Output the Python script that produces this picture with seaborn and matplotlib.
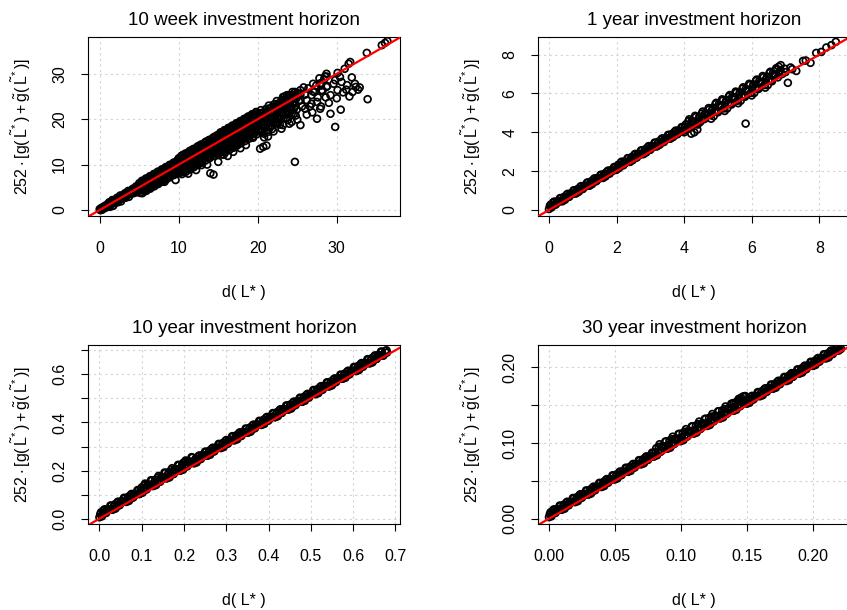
import matplotlib
matplotlib.use("Agg")
import matplotlib.pyplot as plt
import seaborn as sns
from matplotlib.ticker import FixedLocator, FixedFormatter

sns.set_style("ticks")
plt.rcParams["font.family"] = ["Liberation Sans", "DejaVu Sans"]
plt.rcParams["mathtext.fontset"] = "custom"
plt.rcParams["mathtext.rm"] = "Liberation Sans"
plt.rcParams["mathtext.it"] = "Liberation Sans"
plt.rcParams["mathtext.default"] = "regular"

# ---------------- 10 week horizon ----------------
wk10_x = [
    0.0, 0.1, 0.2, 0.3, 0.4, 0.5, 0.6, 0.7, 0.8, 0.9,
    1.0, 1.1, 1.2, 1.3, 1.4, 1.5, 1.6, 1.7, 1.8, 1.9,
    2.0, 2.1, 2.2, 2.3, 2.4, 2.5, 2.6, 2.7, 2.8, 2.9,
    3.0, 3.1, 3.2, 3.3, 3.4, 3.5, 3.6, 3.7, 3.8, 3.9,
    4.0, 4.1, 4.2, 4.3, 4.4, 4.5, 4.6, 4.7, 4.8, 4.9,
    5.00, 5.05, 5.10, 5.15, 5.20, 5.25, 5.30, 5.35, 5.40, 5.45,
    5.50, 5.55, 5.60, 5.65, 5.70, 5.75, 5.80, 5.85, 5.90, 5.95,
    6.00, 6.05, 6.10, 6.15, 6.20, 6.25, 6.30, 6.35, 6.40, 6.45,
    6.50, 6.55, 6.60, 6.65, 6.70, 6.75, 6.80, 6.85, 6.90, 6.95,
    7.00, 7.05, 7.10, 7.15, 7.20, 7.25, 7.30, 7.35, 7.40, 7.45,
    7.50, 7.55, 7.60, 7.65, 7.70, 7.75, 7.80, 7.85, 7.90, 7.95,
    8.00, 8.05, 8.10, 8.15, 8.20, 8.25, 8.30, 8.35, 8.40, 8.45,
    8.50, 8.55, 8.60, 8.65, 8.70, 8.75, 8.80, 8.85, 8.90, 8.95,
    9.00, 9.05, 9.10, 9.15, 9.20, 9.25, 9.30, 9.35, 9.40, 9.45,
    9.50, 9.55, 9.60, 9.65, 9.70, 9.75, 9.80, 9.85, 9.90, 9.95,
    10.00, 10.05, 10.10, 10.15, 10.20, 10.25, 10.30, 10.35, 10.40, 10.45,
    10.50, 10.55, 10.60, 10.65, 10.70, 10.75, 10.80, 10.85, 10.90, 10.95,
    11.00, 11.05, 11.10, 11.15, 11.20, 11.25, 11.30, 11.35, 11.40, 11.45,
    11.50, 11.55, 11.60, 11.65, 11.70, 11.75, 11.80, 11.85, 11.90, 11.95,
    12.00, 12.05, 12.10, 12.15, 12.20, 12.25, 12.30, 12.35, 12.40, 12.45,
    12.50, 12.55, 12.60, 12.65, 12.70, 12.75, 12.80, 12.85, 12.90, 12.95,
    13.00, 13.05, 13.10, 13.15, 13.20, 13.25, 13.30, 13.35, 13.40, 13.45,
    13.50, 13.55, 13.60, 13.65, 13.70, 13.75, 13.80, 13.85, 13.90, 13.95,
    14.00, 14.05, 14.10, 14.15, 14.20, 14.25, 14.30, 14.35, 14.40, 14.45,
    14.50, 14.55, 14.60, 14.65, 14.70, 14.75, 14.80, 14.85, 14.90, 14.95,
    15.00, 15.05, 15.10, 15.15, 15.20, 15.25, 15.30, 15.35, 15.40, 15.45,
    15.50, 15.55, 15.60, 15.65, 15.70, 15.75, 15.80, 15.85, 15.90, 15.95,
    16.00, 16.05, 16.10, 16.15, 16.20, 16.25, 16.30, 16.35, 16.40, 16.45,
    16.50, 16.55, 16.60, 16.65, 16.70, 16.75, 16.80, 16.85, 16.90, 16.95,
    17.00, 17.05, 17.10, 17.15, 17.20, 17.25, 17.30, 17.35, 17.40, 17.45,
    17.50, 17.55, 17.60, 17.65, 17.70, 17.75, 17.80, 17.85, 17.90, 17.95,
    18.00, 18.05, 18.10, 18.15, 18.20, 18.25, 18.30, 18.35, 18.40, 18.45,
    18.50, 18.55, 18.60, 18.65, 18.70, 18.75, 18.80, 18.85, 18.90, 18.95,
    19.00, 19.05, 19.10, 19.15, 19.20, 19.25, 19.30, 19.35, 19.40, 19.45,
    19.50, 19.55, 19.60, 19.65, 19.70, 19.75, 19.80, 19.85, 19.90, 19.95,
    20.0, 20.1, 20.2, 20.3, 20.4, 20.5, 20.6, 20.7, 20.8, 20.9,
    21.0, 21.1, 21.2, 21.3, 21.4, 21.5, 21.6, 21.7, 21.8, 21.9,
    22.0, 22.1, 22.2, 22.3, 22.4, 22.5, 22.6, 22.7, 22.8, 22.9,
    23.0, 23.1, 23.2, 23.3, 23.4, 23.5, 23.6, 23.7, 23.8, 23.9,
    24.0, 24.1, 24.2, 24.3, 24.4, 24.5, 24.6, 24.7, 24.8, 24.9,
    25.0, 25.2, 25.4, 25.6, 25.8, 26.0, 26.2, 26.4, 26.6, 26.8,
    27.0, 27.2, 27.4, 27.6, 27.8, 28.0, 28.2, 28.4, 28.6, 28.8,
    10.05, 10.15, 10.25, 10.35, 10.45, 10.55, 10.65, 10.75, 10.85, 10.95,
    11.05, 11.15, 11.25, 11.35, 11.45, 11.55, 11.65, 11.75, 11.85, 11.95,
    12.05, 12.15, 12.25, 12.35, 12.45, 12.55, 12.65, 12.75, 12.85, 12.95,
    13.05, 13.15, 13.25, 13.35, 13.45, 13.55, 13.65, 13.75, 13.85, 13.95,
    14.05, 14.15, 14.25, 14.35, 14.45, 14.55, 14.65, 14.75, 14.85, 14.95,
    15.025, 15.075, 15.125, 15.175, 15.225, 15.275, 15.325, 15.375, 15.425, 15.475,
    15.525, 15.575, 15.625, 15.675, 15.725, 15.775, 15.825, 15.875, 15.925, 15.975,
    16.025, 16.075, 16.125, 16.175, 16.225, 16.275, 16.325, 16.375, 16.425, 16.475,
    16.525, 16.575, 16.625, 16.675, 16.725, 16.775, 16.825, 16.875, 16.925, 16.975,
    17.025, 17.075, 17.125, 17.175, 17.225, 17.275, 17.325, 17.375, 17.425, 17.475,
    17.525, 17.575, 17.625, 17.675, 17.725, 17.775, 17.825, 17.875, 17.925, 17.975,
    18.025, 18.075, 18.125, 18.175, 18.225, 18.275, 18.325, 18.375, 18.425, 18.475,
    18.525, 18.575, 18.625, 18.675, 18.725, 18.775, 18.825, 18.875, 18.925, 18.975,
    19.025, 19.075, 19.125, 19.175, 19.225, 19.275, 19.325, 19.375, 19.425, 19.475,
    19.525, 19.575, 19.625, 19.675, 19.725, 19.775, 19.825, 19.875, 19.925, 19.975,
    20.05, 20.15, 20.25, 20.35, 20.45, 20.55, 20.65, 20.75, 20.85, 20.95,
    21.05, 21.15, 21.25, 21.35, 21.45, 21.55, 21.65, 21.75, 21.85, 21.95,
    22.05, 22.15, 22.25, 22.35, 22.45, 22.55, 22.65, 22.75, 22.85, 22.95,
    23.05, 23.15, 23.25, 23.35, 23.45, 23.55, 23.65, 23.75, 23.85, 23.95,
    24.05, 24.15, 24.25, 24.35, 24.45, 24.55, 24.65, 24.75, 24.85, 24.95,
    28.5, 28.7, 30.1, 31.0, 31.5, 31.7, 33.8, 35.7, 36.1, 36.4,
    30.4, 29.8, 30.6, 31.3, 29.6, 30.1, 28.7, 29.2, 28.1, 27.5,
    26.8, 27.9, 25.4, 26.0, 24.1, 23.5, 22.6, 22.0, 22.2, 21.6,
    20.3, 19.4, 25.4, 24.7, 23.7, 23.2, 24.7, 29.8, 33.9, 31.6,
    32.4, 32.7, 30.5, 29.2, 27.5, 25.4, 24.3, 23.2, 20.7, 20.3,
    21.1, 21.3, 21.3, 19.4, 27.9, 27.0, 28.7, 31.9, 32.3, 32.9,
    20.8, 22.0, 23.0, 24.0, 25.0, 26.2, 26.9, 28.0, 29.0, 30.0, 30.8, 31.2, 32.0,
    12.9, 14.0, 14.4, 13.6, 11.2, 12.2, 15.0, 16.2, 16.9, 17.1, 17.8, 18.5,
    19.4, 15.7, 9.6, 8.2, 7.2,
]
wk10_y = [
    0.20, -0.05, 0.45, 0.05, 0.55, 0.40, 0.85, 0.45, 1.05, 0.70,
    1.30, 0.80, 1.70, 0.70, 1.50, 1.40, 2.20, 0.90, 2.10, 1.50,
    2.30, 1.80, 2.70, 1.70, 2.50, 2.40, 3.20, 1.90, 3.10, 2.50,
    3.30, 2.80, 3.70, 2.70, 3.50, 3.40, 4.20, 2.90, 4.10, 3.50,
    4.30, 3.80, 4.70, 3.70, 4.50, 4.40, 5.20, 3.90, 5.10, 4.50,
    5.90, 4.45, 5.30, 3.75, 5.80, 5.05, 4.30, 6.45, 3.70, 5.45,
    6.40, 4.95, 5.80, 4.25, 6.30, 5.55, 4.80, 6.95, 4.20, 5.95,
    6.90, 5.45, 6.30, 4.75, 6.80, 6.05, 5.30, 7.45, 4.70, 6.45,
    7.40, 5.95, 6.80, 5.25, 7.30, 6.55, 5.80, 7.95, 5.20, 6.95,
    7.90, 6.45, 7.30, 5.75, 7.80, 7.05, 6.30, 8.45, 5.70, 7.45,
    8.40, 6.95, 7.80, 6.25, 8.30, 7.55, 6.80, 8.95, 6.20, 7.95,
    8.90, 7.45, 8.30, 6.75, 8.80, 8.05, 7.30, 9.45, 6.70, 8.45,
    9.40, 7.95, 8.80, 7.25, 9.30, 8.55, 7.80, 9.95, 7.20, 8.95,
    9.90, 8.45, 9.30, 7.75, 9.80, 9.05, 8.30, 10.45, 7.70, 9.45,
    10.40, 8.95, 9.80, 8.25, 10.30, 9.55, 8.80, 10.95, 8.20, 9.95,
    11.40, 9.25, 10.40, 8.15, 11.10, 9.95, 8.90, 11.95, 7.90, 10.45,
    11.90, 9.75, 10.90, 8.65, 11.60, 10.45, 9.40, 12.45, 8.40, 10.95,
    12.40, 10.25, 11.40, 9.15, 12.10, 10.95, 9.90, 12.95, 8.90, 11.45,
    12.90, 10.75, 11.90, 9.65, 12.60, 11.45, 10.40, 13.45, 9.40, 11.95,
    13.40, 11.25, 12.40, 10.15, 13.10, 11.95, 10.90, 13.95, 9.90, 12.45,
    13.90, 11.75, 12.90, 10.65, 13.60, 12.45, 11.40, 14.45, 10.40, 12.95,
    14.40, 12.25, 13.40, 11.15, 14.10, 12.95, 11.90, 14.95, 10.90, 13.45,
    14.90, 12.75, 13.90, 11.65, 14.60, 13.45, 12.40, 15.45, 11.40, 13.95,
    15.40, 13.25, 14.40, 12.15, 15.10, 13.95, 12.90, 15.95, 11.90, 14.45,
    15.90, 13.75, 14.90, 12.65, 15.60, 14.45, 13.40, 16.45, 12.40, 14.95,
    16.50, 14.05, 15.40, 12.65, 16.20, 14.85, 13.50, 17.05, 12.20, 15.35,
    17.00, 14.55, 15.90, 13.15, 16.70, 15.35, 14.00, 17.55, 12.70, 15.85,
    17.50, 15.05, 16.40, 13.65, 17.20, 15.85, 14.50, 18.05, 13.20, 16.35,
    18.00, 15.55, 16.90, 14.15, 17.70, 16.35, 15.00, 18.55, 13.70, 16.85,
    18.50, 16.05, 17.40, 14.65, 18.20, 16.85, 15.50, 19.05, 14.20, 17.35,
    19.00, 16.55, 17.90, 15.15, 18.70, 17.35, 16.00, 19.55, 14.70, 17.85,
    19.50, 17.05, 18.40, 15.65, 19.20, 17.85, 16.50, 20.05, 15.20, 18.35,
    20.00, 17.55, 18.90, 16.15, 19.70, 18.35, 17.00, 20.55, 15.70, 18.85,
    20.50, 18.05, 19.40, 16.65, 20.20, 18.85, 17.50, 21.05, 16.20, 19.35,
    21.00, 18.55, 19.90, 17.15, 20.70, 19.35, 18.00, 21.55, 16.70, 19.85,
    21.2, 18.6, 20.4, 17.3, 22.0, 19.7, 18.4, 21.4, 16.8, 20.6,
    22.2, 19.6, 21.4, 18.3, 23.0, 20.7, 19.4, 22.4, 17.8, 21.6,
    23.2, 20.6, 22.4, 19.3, 24.0, 21.7, 20.4, 23.4, 18.8, 22.6,
    24.2, 21.6, 23.4, 20.3, 25.0, 22.7, 21.4, 24.4, 19.8, 23.6,
    25.2, 22.6, 24.4, 21.3, 26.0, 23.7, 22.4, 25.4, 20.8, 24.6,
    25.8, 24.0, 25.4, 22.8, 27.0, 25.4, 24.2, 26.8, 22.8, 25.3,
    27.8, 26.0, 27.4, 24.8, 29.0, 27.4, 26.2, 28.8, 24.8, 27.3,
    9.75, 11.15, 8.65, 10.85, 9.55, 12.15, 8.45, 10.25, 11.05, 9.65,
    10.75, 12.15, 9.65, 11.85, 10.55, 13.15, 9.45, 11.25, 12.05, 10.65,
    11.75, 13.15, 10.65, 12.85, 11.55, 14.15, 10.45, 12.25, 13.05, 11.65,
    12.75, 14.15, 11.65, 13.85, 12.55, 15.15, 11.45, 13.25, 14.05, 12.65,
    13.75, 15.15, 12.65, 14.85, 13.55, 16.15, 12.45, 14.25, 15.05, 13.65,
    14.72, 16.28, 13.12, 15.78, 14.02, 17.08, 12.72, 14.78, 15.62, 13.88,
    15.22, 16.78, 13.62, 16.28, 14.52, 17.58, 13.22, 15.28, 16.12, 14.38,
    15.72, 17.28, 14.12, 16.78, 15.02, 18.08, 13.72, 15.78, 16.62, 14.88,
    16.22, 17.78, 14.62, 17.28, 15.52, 18.58, 14.22, 16.28, 17.12, 15.38,
    16.72, 18.28, 15.12, 17.78, 16.02, 19.08, 14.72, 16.78, 17.62, 15.88,
    17.22, 18.78, 15.62, 18.28, 16.52, 19.58, 15.22, 17.28, 18.12, 16.38,
    17.72, 19.28, 16.12, 18.78, 17.02, 20.08, 15.72, 17.78, 18.62, 16.88,
    18.22, 19.78, 16.62, 19.28, 17.52, 20.58, 16.22, 18.28, 19.12, 17.38,
    18.72, 20.28, 17.12, 19.78, 18.02, 21.08, 16.72, 18.78, 19.62, 17.88,
    19.22, 20.78, 17.62, 20.28, 18.52, 21.58, 17.22, 19.28, 20.12, 18.38,
    19.45, 20.65, 17.95, 21.35, 19.25, 17.15, 20.85, 18.95, 20.65, 18.15,
    20.45, 21.65, 18.95, 22.35, 20.25, 18.15, 21.85, 19.95, 21.65, 19.15,
    21.45, 22.65, 19.95, 23.35, 21.25, 19.15, 22.85, 20.95, 22.65, 20.15,
    22.45, 23.65, 20.95, 24.35, 22.25, 20.15, 23.85, 21.95, 23.65, 21.15,
    23.45, 24.65, 21.95, 25.35, 23.25, 21.15, 24.85, 22.95, 24.65, 22.15,
    29.4, 30.0, 30.2, 31.1, 32.2, 32.6, 34.6, 36.3, 36.8, 37.2,
    29.3, 28.6, 28.2, 27.5, 27.8, 26.4, 27.1, 25.3, 26.4, 23.8,
    23.4, 22.3, 24.2, 22.3, 22.7, 21.6, 20.5, 21.2, 19.0, 20.1,
    17.6, 18.3, 26.4, 26.0, 25.3, 24.9, 10.6, 18.3, 24.4, 25.0,
    27.1, 26.5, 22.1, 21.2, 20.1, 18.7, 19.4, 18.7, 13.9, 13.5,
    14.2, 16.2, 17.2, 16.1, 27.9, 26.1, 29.4, 29.2, 27.8, 27.0,
    16.0, 17.3, 17.9, 19.0, 19.9, 21.0, 21.5, 22.8, 23.6, 24.6, 25.9, 26.5, 26.0,
    9.9, 8.1, 7.8, 10.0, 8.0, 8.8, 10.6, 11.9, 12.8, 13.9, 13.6, 14.3,
    15.9, 12.2, 6.6, 6.2, 5.7,
]

# ---------------- 1 year horizon ----------------
yr1_x = [
    0.00, 0.05, 0.10, 0.15, 0.20, 0.25, 0.30, 0.35,
    0.40, 0.45, 0.50, 0.55, 0.60, 0.65, 0.70, 0.75,
    0.80, 0.85, 0.90, 0.95, 1.00, 1.05, 1.10, 1.15,
    1.20, 1.25, 1.30, 1.35, 1.40, 1.45, 1.50, 1.55,
    1.60, 1.65, 1.70, 1.75, 1.80, 1.85, 1.90, 1.95,
    2.00, 2.05, 2.10, 2.15, 2.20, 2.25, 2.30, 2.35,
    2.40, 2.45, 2.50, 2.55, 2.60, 2.65, 2.70, 2.75,
    2.80, 2.85, 2.90, 2.95, 3.00, 3.05, 3.10, 3.15,
    3.20, 3.25, 3.30, 3.35, 3.40, 3.45, 3.50, 3.55,
    3.60, 3.65, 3.70, 3.75, 3.80, 3.85, 3.90, 3.95,
    4.00, 4.05, 4.10, 4.15, 4.20, 4.25, 4.30, 4.35,
    4.40, 4.45, 4.50, 4.55, 4.60, 4.65, 4.70, 4.75,
    4.80, 4.85, 4.90, 4.95, 5.00, 5.05, 5.10, 5.15,
    5.20, 5.25, 5.30, 5.35, 5.40, 5.45, 5.50, 5.55,
    5.60, 5.65, 5.70, 5.75, 5.80, 5.85, 5.90, 5.95,
    6.00, 6.05, 6.10, 6.15, 6.20, 6.25, 6.30, 6.35,
    6.40, 6.45, 6.50, 6.55, 6.60, 6.65, 6.70, 6.75,
    0.025, 0.075, 0.125, 0.175, 0.225, 0.275, 0.325, 0.375,
    0.425, 0.475, 0.525, 0.575, 0.625, 0.675, 0.725, 0.775,
    0.825, 0.875, 0.925, 0.975, 1.025, 1.075, 1.125, 1.175,
    1.225, 1.275, 1.325, 1.375, 1.425, 1.475, 1.525, 1.575,
    1.625, 1.675, 1.725, 1.775, 1.825, 1.875, 1.925, 1.975,
    2.025, 2.075, 2.125, 2.175, 2.225, 2.275, 2.325, 2.375,
    2.425, 2.475, 2.525, 2.575, 2.625, 2.675, 2.725, 2.775,
    2.825, 2.875, 2.925, 2.975, 3.025, 3.075, 3.125, 3.175,
    3.225, 3.275, 3.325, 3.375, 3.425, 3.475, 3.525, 3.575,
    3.625, 3.675, 3.725, 3.775, 3.825, 3.875, 3.925, 3.975,
    4.025, 4.075, 4.125, 4.175, 4.225, 4.275, 4.325, 4.375,
    4.425, 4.475, 4.525, 4.575, 4.625, 4.675, 4.725, 4.775,
    4.825, 4.875, 4.925, 4.975, 5.025, 5.075, 5.125, 5.175,
    5.225, 5.275, 5.325, 5.375, 5.425, 5.475, 5.525, 5.575,
    5.625, 5.675, 5.725, 5.775, 5.825, 5.875, 5.925, 5.975,
    6.025, 6.075, 6.125, 6.175, 6.225, 6.275, 6.325, 6.375,
    6.425, 6.475, 6.525, 6.575, 6.625, 6.675, 6.725, 6.775,
    6.80, 6.86, 6.97, 6.80, 6.90, 6.85,
    7.07, 7.15, 7.32, 7.52, 7.74, 7.91, 8.06, 8.21, 8.36, 8.49,
    7.00, 7.20, 7.60,
    4.21, 4.39, 4.30, 5.82,
]
yr1_y = [
    0.05, 0.28, 0.23, 0.43, 0.28, 0.43, 0.45, 0.61,
    0.45, 0.68, 0.63, 0.83, 0.68, 0.83, 0.85, 1.01,
    0.85, 1.08, 1.03, 1.23, 1.08, 1.23, 1.25, 1.41,
    1.25, 1.48, 1.43, 1.63, 1.48, 1.63, 1.65, 1.81,
    1.65, 1.88, 1.83, 2.03, 1.88, 2.03, 2.05, 2.21,
    2.08, 2.33, 2.25, 2.49, 2.30, 2.48, 2.48, 2.66,
    2.48, 2.73, 2.65, 2.89, 2.70, 2.88, 2.88, 3.06,
    2.88, 3.13, 3.05, 3.29, 3.10, 3.28, 3.28, 3.46,
    3.28, 3.53, 3.45, 3.69, 3.50, 3.68, 3.68, 3.86,
    3.68, 3.93, 3.85, 4.09, 3.90, 4.08, 4.08, 4.26,
    4.00, 4.41, 4.25, 4.67, 4.28, 4.56, 4.53, 4.79,
    4.40, 4.81, 4.65, 5.07, 4.68, 4.96, 4.93, 5.19,
    4.70, 5.26, 5.05, 5.52, 5.03, 5.36, 5.33, 5.64,
    5.10, 5.66, 5.45, 5.92, 5.43, 5.76, 5.73, 6.04,
    5.50, 6.06, 5.85, 6.32, 5.83, 6.16, 6.13, 6.44,
    5.90, 6.46, 6.25, 6.72, 6.23, 6.56, 6.53, 6.84,
    6.30, 6.86, 6.65, 7.12, 6.63, 6.96, 6.93, 7.24,
    0.21, 0.13, 0.39, 0.28, 0.44, 0.41, 0.61, 0.46,
    0.61, 0.53, 0.79, 0.68, 0.84, 0.81, 1.01, 0.86,
    1.01, 0.93, 1.19, 1.08, 1.24, 1.21, 1.41, 1.26,
    1.41, 1.33, 1.59, 1.48, 1.64, 1.61, 1.81, 1.66,
    1.81, 1.73, 1.99, 1.88, 2.04, 2.01, 2.21, 2.06,
    2.24, 2.16, 2.44, 2.31, 2.49, 2.43, 2.67, 2.48,
    2.64, 2.56, 2.84, 2.71, 2.89, 2.83, 3.07, 2.88,
    3.04, 2.96, 3.24, 3.11, 3.29, 3.23, 3.47, 3.28,
    3.44, 3.36, 3.64, 3.51, 3.69, 3.63, 3.87, 3.68,
    3.84, 3.76, 4.04, 3.91, 4.09, 4.03, 4.27, 4.08,
    4.29, 4.13, 4.57, 4.33, 4.59, 4.49, 4.85, 4.48,
    4.69, 4.53, 4.97, 4.73, 4.99, 4.89, 5.25, 4.88,
    5.14, 4.83, 5.45, 5.08, 5.44, 5.29, 5.70, 5.23,
    5.54, 5.23, 5.85, 5.48, 5.84, 5.69, 6.10, 5.63,
    5.94, 5.63, 6.25, 5.88, 6.24, 6.09, 6.50, 6.03,
    6.34, 6.03, 6.65, 6.28, 6.64, 6.49, 6.90, 6.43,
    6.74, 6.43, 7.05, 6.68, 7.04, 6.89, 7.30, 6.83,
    7.38, 7.46, 7.28, 7.05, 7.00, 7.20,
    6.55, 7.34, 7.16, 7.68, 7.58, 8.09, 8.14, 8.37, 8.49, 8.66,
    7.10, 7.25, 7.70,
    3.93, 4.14, 4.00, 4.45,
]

# ---------------- 10 year horizon ----------------
yr10_x = [
    0.000, 0.004, 0.008, 0.012, 0.016, 0.020, 0.024, 0.028,
    0.032, 0.036, 0.040, 0.044, 0.048, 0.052, 0.056, 0.060,
    0.064, 0.068, 0.072, 0.076, 0.080, 0.084, 0.088, 0.092,
    0.096, 0.100, 0.104, 0.108, 0.112, 0.116, 0.120, 0.124,
    0.128, 0.132, 0.136, 0.140, 0.144, 0.148, 0.152, 0.156,
    0.160, 0.164, 0.168, 0.172, 0.176, 0.180, 0.184, 0.188,
    0.192, 0.196, 0.200, 0.204, 0.208, 0.212, 0.216, 0.220,
    0.224, 0.228, 0.232, 0.236, 0.240, 0.244, 0.248, 0.252,
    0.256, 0.260, 0.264, 0.268, 0.272, 0.276, 0.280, 0.284,
    0.288, 0.292, 0.296, 0.300, 0.304, 0.308, 0.312, 0.316,
    0.320, 0.324, 0.328, 0.332, 0.336, 0.340, 0.344, 0.348,
    0.352, 0.356, 0.360, 0.364, 0.368, 0.372, 0.376, 0.380,
    0.384, 0.388, 0.392, 0.396, 0.400, 0.404, 0.408, 0.412,
    0.416, 0.420, 0.424, 0.428, 0.432, 0.436, 0.440, 0.444,
    0.448, 0.452, 0.456, 0.460, 0.464, 0.468, 0.472, 0.476,
    0.480, 0.484, 0.488, 0.492, 0.496, 0.500, 0.504, 0.508,
    0.512, 0.516, 0.520, 0.524, 0.528, 0.532, 0.536, 0.540,
    0.544, 0.548, 0.552, 0.556, 0.560, 0.564, 0.568, 0.572,
    0.576, 0.580, 0.584, 0.588, 0.592, 0.596, 0.600, 0.604,
    0.608, 0.612, 0.616, 0.620, 0.624, 0.628, 0.632, 0.636,
    0.640, 0.644, 0.648, 0.652, 0.656, 0.660, 0.664, 0.668,
    0.672, 0.676, 0.680, 0.679,
    0.002, 0.006, 0.010, 0.014, 0.018, 0.022, 0.026, 0.030,
    0.034, 0.038, 0.042, 0.046, 0.050, 0.054, 0.058, 0.062,
    0.066, 0.070, 0.074, 0.078, 0.082, 0.086, 0.090, 0.094,
    0.098, 0.102, 0.106, 0.110, 0.114, 0.118, 0.122, 0.126,
    0.130, 0.134, 0.138, 0.142, 0.146, 0.150, 0.154, 0.158,
    0.162, 0.166, 0.170, 0.174, 0.178, 0.182, 0.186, 0.190,
    0.194, 0.198, 0.202, 0.206, 0.210, 0.214, 0.218, 0.222,
    0.226, 0.230, 0.234, 0.238, 0.242, 0.246, 0.250, 0.254,
    0.258, 0.262, 0.266, 0.270, 0.274, 0.278, 0.282, 0.286,
    0.290, 0.294, 0.298, 0.302, 0.306, 0.310, 0.314, 0.318,
    0.322, 0.326, 0.330, 0.334, 0.338, 0.342, 0.346, 0.350,
    0.354, 0.358, 0.362, 0.366, 0.370, 0.374, 0.378, 0.382,
    0.386, 0.390, 0.394, 0.398, 0.402, 0.406, 0.410, 0.414,
    0.418, 0.422, 0.426, 0.430, 0.434, 0.438, 0.442, 0.446,
    0.450, 0.454, 0.458, 0.462, 0.466, 0.470, 0.474, 0.478,
    0.482, 0.486, 0.490, 0.494, 0.498, 0.502, 0.506, 0.510,
    0.514, 0.518, 0.522, 0.526, 0.530, 0.534, 0.538, 0.542,
    0.546, 0.550, 0.554, 0.558, 0.562, 0.566, 0.570, 0.574,
    0.578, 0.582, 0.586, 0.590, 0.594, 0.598, 0.602, 0.606,
    0.610, 0.614, 0.618, 0.622, 0.626, 0.630, 0.634, 0.638,
    0.642, 0.646, 0.650, 0.654, 0.658, 0.662, 0.666, 0.670,
    0.198, 0.202,
]
yr10_y = [
    0.006, 0.027, 0.020, 0.039, 0.024, 0.039, 0.039, 0.053,
    0.038, 0.059, 0.052, 0.071, 0.056, 0.071, 0.071, 0.085,
    0.070, 0.091, 0.084, 0.103, 0.088, 0.103, 0.103, 0.117,
    0.104, 0.130, 0.120, 0.146, 0.122, 0.142, 0.141, 0.158,
    0.136, 0.162, 0.152, 0.178, 0.154, 0.174, 0.173, 0.190,
    0.168, 0.194, 0.184, 0.210, 0.186, 0.206, 0.205, 0.222,
    0.200, 0.226, 0.216, 0.242, 0.218, 0.238, 0.237, 0.254,
    0.230, 0.251, 0.244, 0.263, 0.248, 0.263, 0.263, 0.277,
    0.262, 0.283, 0.276, 0.295, 0.280, 0.295, 0.295, 0.309,
    0.294, 0.315, 0.308, 0.327, 0.312, 0.327, 0.327, 0.341,
    0.326, 0.347, 0.340, 0.359, 0.344, 0.359, 0.359, 0.373,
    0.358, 0.379, 0.372, 0.391, 0.376, 0.391, 0.391, 0.405,
    0.390, 0.411, 0.404, 0.423, 0.408, 0.423, 0.423, 0.437,
    0.422, 0.443, 0.436, 0.455, 0.440, 0.455, 0.455, 0.469,
    0.454, 0.475, 0.468, 0.487, 0.472, 0.487, 0.487, 0.501,
    0.486, 0.507, 0.500, 0.519, 0.504, 0.519, 0.519, 0.533,
    0.518, 0.539, 0.532, 0.551, 0.536, 0.551, 0.551, 0.565,
    0.550, 0.571, 0.564, 0.583, 0.568, 0.583, 0.583, 0.597,
    0.582, 0.603, 0.596, 0.615, 0.600, 0.615, 0.615, 0.629,
    0.614, 0.635, 0.628, 0.647, 0.632, 0.647, 0.647, 0.661,
    0.646, 0.667, 0.660, 0.679, 0.664, 0.679, 0.679, 0.693,
    0.678, 0.697, 0.690, 0.700,
    0.019, 0.010, 0.035, 0.024, 0.039, 0.037, 0.055, 0.038,
    0.051, 0.042, 0.067, 0.056, 0.071, 0.069, 0.087, 0.070,
    0.083, 0.074, 0.099, 0.088, 0.103, 0.101, 0.119, 0.102,
    0.119, 0.108, 0.139, 0.122, 0.141, 0.135, 0.160, 0.136,
    0.151, 0.140, 0.171, 0.154, 0.173, 0.167, 0.192, 0.168,
    0.183, 0.172, 0.203, 0.186, 0.205, 0.199, 0.224, 0.200,
    0.215, 0.204, 0.235, 0.218, 0.237, 0.231, 0.256, 0.232,
    0.243, 0.234, 0.259, 0.248, 0.263, 0.261, 0.279, 0.262,
    0.275, 0.266, 0.291, 0.280, 0.295, 0.293, 0.311, 0.294,
    0.307, 0.298, 0.323, 0.312, 0.327, 0.325, 0.343, 0.326,
    0.339, 0.330, 0.355, 0.344, 0.359, 0.357, 0.375, 0.358,
    0.371, 0.362, 0.387, 0.376, 0.391, 0.389, 0.407, 0.390,
    0.403, 0.394, 0.419, 0.408, 0.423, 0.421, 0.439, 0.422,
    0.435, 0.426, 0.451, 0.440, 0.455, 0.453, 0.471, 0.454,
    0.467, 0.458, 0.483, 0.472, 0.487, 0.485, 0.503, 0.486,
    0.499, 0.490, 0.515, 0.504, 0.519, 0.517, 0.535, 0.518,
    0.531, 0.522, 0.547, 0.536, 0.551, 0.549, 0.567, 0.550,
    0.563, 0.554, 0.579, 0.568, 0.583, 0.581, 0.599, 0.582,
    0.595, 0.586, 0.611, 0.600, 0.615, 0.613, 0.631, 0.614,
    0.627, 0.618, 0.643, 0.632, 0.647, 0.645, 0.663, 0.646,
    0.659, 0.650, 0.675, 0.664, 0.679, 0.677, 0.695, 0.678,
    0.232, 0.236,
]

# ---------------- 30 year horizon ----------------
yr30_x = [
    0.0000, 0.00125, 0.0025, 0.00375, 0.0050, 0.00625, 0.0075, 0.00875,
    0.0100, 0.01125, 0.0125, 0.01375, 0.0150, 0.01625, 0.0175, 0.01875,
    0.0200, 0.02125, 0.0225, 0.02375, 0.0250, 0.02625, 0.0275, 0.02875,
    0.0300, 0.03125, 0.0325, 0.03375, 0.0350, 0.03625, 0.0375, 0.03875,
    0.0400, 0.04125, 0.0425, 0.04375, 0.0450, 0.04625, 0.0475, 0.04875,
    0.0500, 0.05125, 0.0525, 0.05375, 0.0550, 0.05625, 0.0575, 0.05875,
    0.0600, 0.06125, 0.0625, 0.06375, 0.0650, 0.06625, 0.0675, 0.06875,
    0.0700, 0.07125, 0.0725, 0.07375, 0.0750, 0.07625, 0.0775, 0.07875,
    0.0800, 0.08125, 0.0825, 0.08375, 0.0850, 0.08625, 0.0875, 0.08875,
    0.0900, 0.09125, 0.0925, 0.09375, 0.0950, 0.09625, 0.0975, 0.09875,
    0.1000, 0.10125, 0.1025, 0.10375, 0.1050, 0.10625, 0.1075, 0.10875,
    0.1100, 0.11125, 0.1125, 0.11375, 0.1150, 0.11625, 0.1175, 0.11875,
    0.1200, 0.12125, 0.1225, 0.12375, 0.1250, 0.12625, 0.1275, 0.12875,
    0.1300, 0.13125, 0.1325, 0.13375, 0.1350, 0.13625, 0.1375, 0.13875,
    0.1400, 0.14125, 0.1425, 0.14375, 0.1450, 0.14625, 0.1475, 0.14875,
    0.1500, 0.15125, 0.1525, 0.15375, 0.1550, 0.15625, 0.1575, 0.15875,
    0.1600, 0.16125, 0.1625, 0.16375, 0.1650, 0.16625, 0.1675, 0.16875,
    0.1700, 0.17125, 0.1725, 0.17375, 0.1750, 0.17625, 0.1775, 0.17875,
    0.1800, 0.18125, 0.1825, 0.18375, 0.1850, 0.18625, 0.1875, 0.18875,
    0.1900, 0.19125, 0.1925, 0.19375, 0.1950, 0.19625, 0.1975, 0.19875,
    0.2000, 0.20125, 0.2025, 0.20375, 0.2050, 0.20625, 0.2075, 0.20875,
    0.2100, 0.21125, 0.2125, 0.21375, 0.2150, 0.21625, 0.2175, 0.21875,
    0.000625, 0.001875, 0.003125, 0.004375, 0.005625, 0.006875, 0.008125, 0.009375,
    0.010625, 0.011875, 0.013125, 0.014375, 0.015625, 0.016875, 0.018125, 0.019375,
    0.020625, 0.021875, 0.023125, 0.024375, 0.025625, 0.026875, 0.028125, 0.029375,
    0.030625, 0.031875, 0.033125, 0.034375, 0.035625, 0.036875, 0.038125, 0.039375,
    0.040625, 0.041875, 0.043125, 0.044375, 0.045625, 0.046875, 0.048125, 0.049375,
    0.050625, 0.051875, 0.053125, 0.054375, 0.055625, 0.056875, 0.058125, 0.059375,
    0.060625, 0.061875, 0.063125, 0.064375, 0.065625, 0.066875, 0.068125, 0.069375,
    0.070625, 0.071875, 0.073125, 0.074375, 0.075625, 0.076875, 0.078125, 0.079375,
    0.080625, 0.081875, 0.083125, 0.084375, 0.085625, 0.086875, 0.088125, 0.089375,
    0.090625, 0.091875, 0.093125, 0.094375, 0.095625, 0.096875, 0.098125, 0.099375,
    0.100625, 0.101875, 0.103125, 0.104375, 0.105625, 0.106875, 0.108125, 0.109375,
    0.110625, 0.111875, 0.113125, 0.114375, 0.115625, 0.116875, 0.118125, 0.119375,
    0.120625, 0.121875, 0.123125, 0.124375, 0.125625, 0.126875, 0.128125, 0.129375,
    0.130625, 0.131875, 0.133125, 0.134375, 0.135625, 0.136875, 0.138125, 0.139375,
    0.140625, 0.141875, 0.143125, 0.144375, 0.145625, 0.146875, 0.148125, 0.149375,
    0.150625, 0.151875, 0.153125, 0.154375, 0.155625, 0.156875, 0.158125, 0.159375,
    0.160625, 0.161875, 0.163125, 0.164375, 0.165625, 0.166875, 0.168125, 0.169375,
    0.170625, 0.171875, 0.173125, 0.174375, 0.175625, 0.176875, 0.178125, 0.179375,
    0.180625, 0.181875, 0.183125, 0.184375, 0.185625, 0.186875, 0.188125, 0.189375,
    0.190625, 0.191875, 0.193125, 0.194375, 0.195625, 0.196875, 0.198125, 0.199375,
    0.200625, 0.201875, 0.203125, 0.204375, 0.205625, 0.206875, 0.208125, 0.209375,
    0.210625, 0.211875, 0.213125, 0.214375, 0.215625, 0.216875, 0.218125, 0.219375,
    0.2200, 0.2212, 0.1400, 0.1430, 0.1455, 0.1470, 0.1440,
]
yr30_y = [
    0.0020, 0.0086, 0.0065, 0.0124, 0.0077, 0.0123, 0.0121, 0.0168,
    0.0120, 0.0186, 0.0165, 0.0224, 0.0177, 0.0223, 0.0221, 0.0268,
    0.0220, 0.0286, 0.0265, 0.0324, 0.0277, 0.0323, 0.0321, 0.0368,
    0.0320, 0.0386, 0.0365, 0.0424, 0.0377, 0.0423, 0.0421, 0.0468,
    0.0420, 0.0486, 0.0465, 0.0524, 0.0477, 0.0523, 0.0521, 0.0568,
    0.0520, 0.0586, 0.0565, 0.0624, 0.0577, 0.0623, 0.0621, 0.0668,
    0.0620, 0.0686, 0.0665, 0.0724, 0.0677, 0.0723, 0.0721, 0.0768,
    0.0720, 0.0786, 0.0765, 0.0824, 0.0777, 0.0823, 0.0821, 0.0868,
    0.0827, 0.0932, 0.0885, 0.0984, 0.0890, 0.0963, 0.0955, 0.1021,
    0.0927, 0.1032, 0.0985, 0.1084, 0.0990, 0.1063, 0.1055, 0.1121,
    0.1027, 0.1132, 0.1085, 0.1184, 0.1090, 0.1163, 0.1155, 0.1221,
    0.1127, 0.1232, 0.1185, 0.1284, 0.1190, 0.1263, 0.1255, 0.1321,
    0.1227, 0.1332, 0.1285, 0.1384, 0.1290, 0.1363, 0.1355, 0.1421,
    0.1327, 0.1432, 0.1385, 0.1484, 0.1390, 0.1463, 0.1455, 0.1521,
    0.1427, 0.1532, 0.1485, 0.1584, 0.1490, 0.1563, 0.1555, 0.1621,
    0.1520, 0.1586, 0.1565, 0.1624, 0.1577, 0.1623, 0.1621, 0.1668,
    0.1620, 0.1686, 0.1665, 0.1724, 0.1677, 0.1723, 0.1721, 0.1768,
    0.1720, 0.1786, 0.1765, 0.1824, 0.1777, 0.1823, 0.1821, 0.1868,
    0.1820, 0.1886, 0.1865, 0.1924, 0.1877, 0.1923, 0.1921, 0.1968,
    0.1920, 0.1986, 0.1965, 0.2024, 0.1977, 0.2023, 0.2021, 0.2068,
    0.2020, 0.2086, 0.2065, 0.2124, 0.2077, 0.2123, 0.2121, 0.2168,
    0.2120, 0.2186, 0.2165, 0.2224, 0.2177, 0.2223, 0.2221, 0.2268,
    0.0059, 0.0032, 0.0111, 0.0077, 0.0122, 0.0115, 0.0174, 0.0121,
    0.0159, 0.0132, 0.0211, 0.0177, 0.0222, 0.0215, 0.0274, 0.0221,
    0.0259, 0.0232, 0.0311, 0.0277, 0.0322, 0.0315, 0.0374, 0.0321,
    0.0359, 0.0332, 0.0411, 0.0377, 0.0422, 0.0415, 0.0474, 0.0421,
    0.0459, 0.0432, 0.0511, 0.0477, 0.0522, 0.0515, 0.0574, 0.0521,
    0.0559, 0.0532, 0.0611, 0.0577, 0.0622, 0.0615, 0.0674, 0.0621,
    0.0659, 0.0632, 0.0711, 0.0677, 0.0722, 0.0715, 0.0774, 0.0721,
    0.0759, 0.0732, 0.0811, 0.0777, 0.0822, 0.0815, 0.0874, 0.0821,
    0.0879, 0.0839, 0.0950, 0.0884, 0.0956, 0.0929, 0.1020, 0.0927,
    0.0979, 0.0939, 0.1050, 0.0984, 0.1056, 0.1029, 0.1120, 0.1027,
    0.1079, 0.1039, 0.1150, 0.1084, 0.1156, 0.1129, 0.1220, 0.1127,
    0.1179, 0.1139, 0.1250, 0.1184, 0.1256, 0.1229, 0.1320, 0.1227,
    0.1279, 0.1239, 0.1350, 0.1284, 0.1356, 0.1329, 0.1420, 0.1327,
    0.1379, 0.1339, 0.1450, 0.1384, 0.1456, 0.1429, 0.1520, 0.1427,
    0.1479, 0.1439, 0.1550, 0.1484, 0.1556, 0.1529, 0.1620, 0.1527,
    0.1559, 0.1532, 0.1611, 0.1577, 0.1622, 0.1615, 0.1674, 0.1621,
    0.1659, 0.1632, 0.1711, 0.1677, 0.1722, 0.1715, 0.1774, 0.1721,
    0.1759, 0.1732, 0.1811, 0.1777, 0.1822, 0.1815, 0.1874, 0.1821,
    0.1859, 0.1832, 0.1911, 0.1877, 0.1922, 0.1915, 0.1974, 0.1921,
    0.1959, 0.1932, 0.2011, 0.1977, 0.2022, 0.2015, 0.2074, 0.2021,
    0.2059, 0.2032, 0.2111, 0.2077, 0.2122, 0.2115, 0.2174, 0.2121,
    0.2159, 0.2132, 0.2211, 0.2177, 0.2222, 0.2215, 0.2274, 0.2221,
    0.2235, 0.2245, 0.1530, 0.1560, 0.1600, 0.1615, 0.1575,
]

titles = ["10 week investment horizon", "1 year investment horizon",
          "10 year investment horizon", "30 year investment horizon"]

wk10_ticks = [0, 10, 20, 30]
wk10_labels = ["0", "10", "20", "30"]
yr1_ticks = [0, 2, 4, 6, 8]
yr1_labels = ["0", "2", "4", "6", "8"]
yr10_xticks = [0.0, 0.1, 0.2, 0.3, 0.4, 0.5, 0.6, 0.7]
yr10_xlabels = ["0.0", "0.1", "0.2", "0.3", "0.4", "0.5", "0.6", "0.7"]
yr10_yticks = [0.0, 0.1, 0.2, 0.3, 0.4, 0.5, 0.6, 0.7]
yr10_ylabels = ["0.0", "", "0.2", "", "0.4", "", "0.6", ""]
yr30_xticks = [0.00, 0.05, 0.10, 0.15, 0.20]
yr30_xlabels = ["0.00", "0.05", "0.10", "0.15", "0.20"]
yr30_yticks = [0.00, 0.05, 0.10, 0.15, 0.20]
yr30_ylabels = ["0.00", "", "0.10", "", "0.20"]

xlabel = "d( L* )"
ylabel = (r"$252\cdot[\mathrm{g}(\,\tilde{\mathrm{L}}^{*}\,)"
          r"+\tilde{\mathrm{g}}(\,\tilde{\mathrm{L}}^{*}\,)]$")

W, H = 847, 610
fig = plt.figure(figsize=(W / 100, H / 100), dpi=100)
fig.patch.set_facecolor("white")

panels = [
    dict(left=88, top=37, x=wk10_x, y=wk10_y, xlim=(-1.48, 38.0), ylim=(-1.32, 38.1),
         xt=wk10_ticks, xl=wk10_labels, yt=wk10_ticks, yl=wk10_labels),
    dict(left=538, top=37, x=yr1_x, y=yr1_y, xlim=(-0.326, 8.91), ylim=(-0.31, 8.91),
         xt=yr1_ticks, xl=yr1_labels, yt=yr1_ticks, yl=yr1_labels),
    dict(left=88, top=345, x=yr10_x, y=yr10_y, xlim=(-0.027, 0.711), ylim=(-0.022, 0.722),
         xt=yr10_xticks, xl=yr10_xlabels, yt=yr10_yticks, yl=yr10_ylabels),
    dict(left=538, top=345, x=yr30_x, y=yr30_y, xlim=(-0.0083, 0.228), ylim=(-0.007, 0.2296),
         xt=yr30_xticks, xl=yr30_xlabels, yt=yr30_yticks, yl=yr30_ylabels),
]

PW, PH = 312, 179
for p, title in zip(panels, titles):
    ax = fig.add_axes([p["left"] / W, 1 - (p["top"] + PH) / H, PW / W, PH / H])
    ax.set_facecolor("white")
    sns.scatterplot(x=p["x"], y=p["y"], ax=ax, marker="o", s=24,
                    color="black", edgecolor="black", linewidth=1.25, zorder=3)
    ax.collections[-1].set_facecolor("none")
    ax.axline((0, 0), slope=1, color="#FF0000", linewidth=1.6, zorder=4)

    ax.set_xlim(*p["xlim"])
    ax.set_ylim(*p["ylim"])
    ax.xaxis.set_major_locator(FixedLocator(p["xt"]))
    ax.xaxis.set_major_formatter(FixedFormatter(p["xl"]))
    ax.yaxis.set_major_locator(FixedLocator(p["yt"]))
    ax.yaxis.set_major_formatter(FixedFormatter(p["yl"]))

    ax.grid(True, color="#D3D3D3", linestyle=(0, (2, 3)), linewidth=0.8)
    ax.set_axisbelow(True)
    for sp in ax.spines.values():
        sp.set_visible(True)
        sp.set_color("black")
        sp.set_linewidth(0.8)

    ax.tick_params(axis="both", direction="out", length=5, width=0.8,
                   color="black", labelcolor="black", labelsize=11.5)
    ax.tick_params(axis="x", pad=13)
    ax.tick_params(axis="y", pad=10, labelrotation=90)
    for lab in ax.get_yticklabels():
        lab.set_va("center")

    ax.set_title(title, fontsize=13.5, pad=8.5, color="black")
    ax.set_xlabel(xlabel, fontsize=11.5, labelpad=21, color="black")
    ax.set_ylabel(ylabel, fontsize=11.5, labelpad=14, color="black")

fig.savefig("out.png", dpi=100, facecolor="white")
